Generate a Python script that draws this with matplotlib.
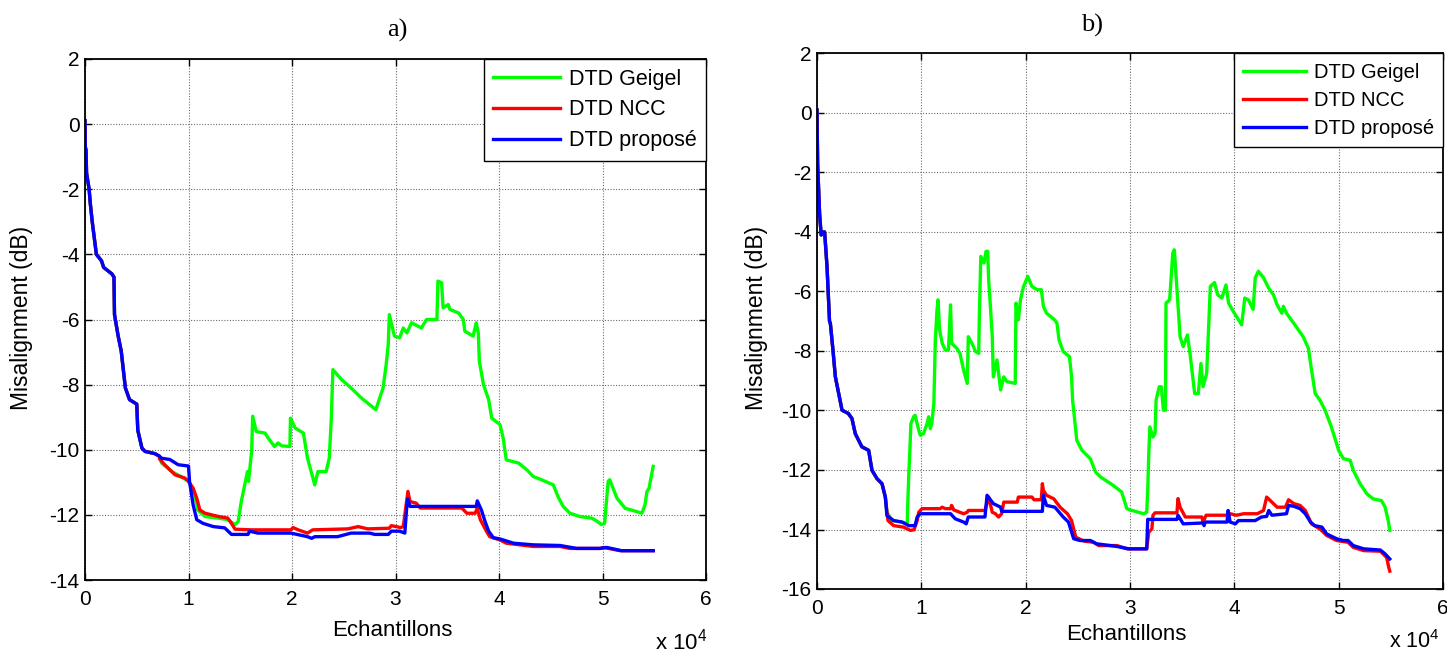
import matplotlib
matplotlib.use("Agg")
import matplotlib.pyplot as plt

plt.rcParams['font.family'] = ['Liberation Sans', 'DejaVu Sans']
plt.rcParams['axes.unicode_minus'] = False

W, H = 1447, 653

# ---------------- panel a) ----------------
# sample index in units of 10^4, misalignment in dB
a_head_x = [0, 0.003, 0.01, 0.015, 0.02, 0.04, 0.05, 0.07, 0.09, 0.11, 0.16, 0.18, 0.26,
            0.28, 0.285, 0.32, 0.35, 0.39, 0.43, 0.50, 0.51, 0.55, 0.58, 0.675, 0.72]
a_head_y = [0.1, -0.7, -0.8, -1.5, -1.6, -2.0, -2.4, -3.0, -3.5, -4.0, -4.2, -4.4, -4.6,
            -4.7, -5.85, -6.5, -6.97, -8.1, -8.46, -8.6, -9.4, -9.95, -10.05, -10.12, -10.2]

a_prop_x = [0.74, 0.82, 0.90, 1.0, 1.01, 1.045, 1.08, 1.14, 1.24, 1.35, 1.415, 1.575, 1.59,
            1.67, 1.99, 2.15, 2.19, 2.22, 2.44, 2.57, 2.75, 2.80, 2.93, 2.96, 3.04, 3.09,
            3.11, 3.12, 3.14, 3.78, 3.79, 3.83, 3.865, 3.90, 3.945, 4.01, 4.14, 4.33, 4.59,
            4.75, 4.975, 5.04, 5.185, 5.49]
a_prop_y = [-10.26, -10.3, -10.46, -10.5, -10.97, -11.7, -12.15, -12.26, -12.36, -12.4,
            -12.6, -12.6, -12.5, -12.56, -12.56, -12.67, -12.72, -12.67, -12.67, -12.56,
            -12.56, -12.6, -12.6, -12.5, -12.5, -12.56, -11.7, -11.5, -11.74, -11.74,
            -11.57, -11.85, -12.2, -12.5, -12.7, -12.74, -12.87, -12.92, -12.94, -13.03,
            -13.03, -13.0, -13.1, -13.1]

a_ncc_x = [0.72, 0.77, 0.87, 0.965, 1.0, 1.045, 1.08, 1.11, 1.16, 1.29, 1.38, 1.415, 1.45,
           1.61, 1.99, 2.01, 2.06, 2.15, 2.20, 2.54, 2.64, 2.73, 2.94, 2.96, 3.05, 3.075,
           3.09, 3.12, 3.14, 3.20, 3.24, 3.64, 3.69, 3.77, 3.79, 3.82, 3.88, 3.91, 4.01,
           4.07, 4.33, 4.59, 4.685, 4.975, 5.01, 5.17, 5.49]
a_ncc_y = [-10.28, -10.46, -10.77, -10.87, -10.97, -11.18, -11.49, -11.85, -11.95, -12.05,
           -12.1, -12.26, -12.44, -12.46, -12.46, -12.39, -12.46, -12.56, -12.46, -12.43,
           -12.36, -12.43, -12.41, -12.33, -12.39, -12.36, -12.0, -11.28, -11.59, -11.64,
           -11.79, -11.79, -11.95, -11.95, -11.79, -12.15, -12.51, -12.67, -12.77, -12.87,
           -12.97, -12.97, -13.03, -13.03, -13.0, -13.1, -13.1]

a_geigel_x = [0.74, 0.84, 0.95, 1.0, 1.06, 1.09, 1.16, 1.29, 1.38, 1.45, 1.48, 1.51, 1.54,
              1.57, 1.58, 1.61, 1.62, 1.655, 1.74, 1.77, 1.83, 1.865, 1.90, 1.98, 1.985,
              2.03, 2.11, 2.15, 2.22, 2.25, 2.33, 2.36, 2.38, 2.395, 2.48, 2.57, 2.67, 2.81,
              2.88, 2.91, 2.93, 2.94, 2.99, 3.04, 3.075, 3.11, 3.155, 3.25, 3.30, 3.40,
              3.41, 3.445, 3.46, 3.51, 3.525, 3.61, 3.655, 3.67, 3.75, 3.78, 3.80, 3.81,
              3.85, 3.90, 3.93, 4.01, 4.04, 4.07, 4.19, 4.27, 4.33, 4.41, 4.525, 4.57,
              4.62, 4.685, 4.78, 4.895, 4.94, 4.99, 5.02, 5.055, 5.07, 5.14, 5.22, 5.30,
              5.38, 5.41, 5.43, 5.45, 5.465, 5.49]
a_geigel_y = [-10.41, -10.67, -10.87, -10.97, -11.38, -11.85, -12.05, -12.1, -12.15, -12.3,
              -12.2, -11.59, -11.13, -10.67, -10.97, -10.05, -8.97, -9.44, -9.49, -9.64,
              -9.9, -9.79, -9.88, -9.9, -9.03, -9.33, -9.49, -10.26, -11.08, -10.67,
              -10.67, -10.26, -9.03, -7.54, -7.85, -8.1, -8.41, -8.77, -8.1, -7.38, -6.77,
              -5.85, -6.51, -6.56, -6.26, -6.41, -6.1, -6.26, -6.0, -6.0, -4.82, -4.87,
              -5.64, -5.54, -5.69, -5.8, -6.0, -6.36, -6.51, -6.1, -6.41, -7.28, -8.0,
              -8.46, -9.03, -9.23, -9.64, -10.31, -10.41, -10.62, -10.82, -10.92, -11.08,
              -11.44, -11.74, -11.95, -12.05, -12.1, -12.18, -12.3, -12.26, -10.97, -10.92,
              -11.49, -11.8, -11.87, -11.95, -11.7, -11.28, -11.18, -10.92, -10.51]

# ---------------- panel b) ----------------
b_head_x = [0, 0.006, 0.016, 0.025, 0.04, 0.064, 0.073, 0.083, 0.096, 0.12, 0.128, 0.153,
            0.176, 0.208, 0.24, 0.30, 0.335, 0.367, 0.43, 0.495, 0.527, 0.575, 0.623, 0.655]
b_head_y = [0.1, -1.7, -2.6, -3.4, -4.1, -4.0, -4.0, -4.5, -5.16, -7.0, -7.07, -7.97,
            -8.87, -9.43, -9.99, -10.1, -10.27, -10.78, -11.22, -11.34, -12.01, -12.29,
            -12.46, -12.91]

b_prop_x = [0.67, 0.735, 0.815, 0.88, 0.94, 0.96, 0.99, 1.28, 1.325, 1.405, 1.43, 1.45,
            1.61, 1.63, 1.69, 1.76, 1.77, 2.16, 2.17, 2.20, 2.28, 2.36, 2.41, 2.46, 2.52,
            2.62, 2.68, 2.875, 2.99, 3.16, 3.17, 3.45, 3.46, 3.51, 3.70, 3.71, 3.72, 3.93,
            3.94, 3.96, 4.01, 4.04, 4.20, 4.26, 4.31, 4.33, 4.36, 4.50, 4.52, 4.57, 4.63,
            4.68, 4.73, 4.77, 4.84, 4.885, 4.98, 5.045, 5.09, 5.14, 5.24, 5.40, 5.445, 5.49]
b_prop_y = [-13.53, -13.7, -13.75, -13.87, -13.87, -13.58, -13.47, -13.47, -13.64, -13.75,
            -13.81, -13.58, -13.58, -12.85, -13.13, -13.25, -13.39, -13.39, -12.85, -13.19,
            -13.25, -13.58, -13.75, -14.31, -14.37, -14.37, -14.48, -14.57, -14.65, -14.65,
            -13.66, -13.66, -13.52, -13.81, -13.78, -13.87, -13.75, -13.75, -13.36, -13.75,
            -13.81, -13.7, -13.7, -13.58, -13.56, -13.36, -13.52, -13.47, -13.19, -13.22,
            -13.3, -13.47, -13.75, -13.87, -13.92, -14.15, -14.31, -14.37, -14.37, -14.54,
            -14.65, -14.69, -14.82, -14.99]

b_ncc_x = [0.68, 0.735, 0.83, 0.895, 0.93, 0.96, 0.975, 1.006, 1.18, 1.20, 1.23, 1.28,
           1.29, 1.31, 1.405, 1.44, 1.45, 1.61, 1.645, 1.68, 1.71, 1.74, 1.77, 1.79, 1.92,
           1.93, 2.06, 2.08, 2.15, 2.16, 2.17, 2.20, 2.27, 2.33, 2.40, 2.44, 2.48, 2.56,
           2.65, 2.70, 2.875, 2.97, 3.16, 3.18, 3.21, 3.22, 3.24, 3.45, 3.46, 3.48, 3.53,
           3.69, 3.70, 3.73, 3.93, 3.96, 4.02, 4.09, 4.22, 4.28, 4.31, 4.36, 4.41, 4.49,
           4.52, 4.57, 4.63, 4.68, 4.74, 4.82, 4.885, 4.98, 5.09, 5.14, 5.24, 5.40, 5.46,
           5.48, 5.49]
b_ncc_y = [-13.7, -13.87, -13.92, -14.03, -14.01, -13.7, -13.42, -13.3, -13.3, -13.25,
           -13.3, -13.3, -13.19, -13.34, -13.47, -13.42, -13.36, -13.36, -12.91, -13.42,
           -13.47, -13.58, -13.47, -13.08, -13.08, -12.91, -12.91, -13.0, -13.0, -12.46,
           -12.69, -12.85, -12.97, -13.25, -13.47, -13.7, -14.26, -14.39, -14.43, -14.54,
           -14.54, -14.65, -14.65, -14.09, -13.98, -13.52, -13.44, -13.44, -12.96, -13.25,
           -13.58, -13.58, -13.75, -13.52, -13.52, -13.47, -13.52, -13.47, -13.47, -13.36,
           -12.91, -13.08, -13.25, -13.25, -13.0, -13.13, -13.19, -13.36, -13.81, -13.98,
           -14.2, -14.37, -14.43, -14.6, -14.71, -14.73, -14.94, -15.27, -15.4]

b_geigel_x = [0.67, 0.72, 0.815, 0.865, 0.87, 0.88, 0.89, 0.90, 0.926, 0.94, 0.975, 0.99,
              1.02, 1.055, 1.07, 1.086, 1.10, 1.12, 1.134, 1.15, 1.16, 1.175, 1.20, 1.23,
              1.26, 1.28, 1.29, 1.34, 1.37, 1.405, 1.44, 1.45, 1.485, 1.52, 1.55, 1.556,
              1.57, 1.60, 1.62, 1.636, 1.645, 1.66, 1.68, 1.69, 1.725, 1.76, 1.79, 1.82,
              1.90, 1.907, 1.93, 1.95, 1.98, 2.02, 2.06, 2.11, 2.15, 2.17, 2.20, 2.28,
              2.30, 2.32, 2.36, 2.42, 2.44, 2.45, 2.47, 2.49, 2.54, 2.62, 2.67, 2.72, 2.84,
              2.92, 2.97, 3.0, 3.13, 3.16, 3.17, 3.18, 3.19, 3.22, 3.24, 3.25, 3.28, 3.30,
              3.32, 3.34, 3.345, 3.38, 3.41, 3.425, 3.45, 3.48, 3.51, 3.55, 3.575, 3.62,
              3.655, 3.68, 3.70, 3.735, 3.75, 3.77, 3.81, 3.84, 3.88, 3.92, 3.945, 3.99,
              4.07, 4.10, 4.135, 4.18, 4.20, 4.23, 4.28, 4.33, 4.375, 4.41, 4.455, 4.47,
              4.50, 4.57, 4.66, 4.71, 4.74, 4.775, 4.82, 4.87, 4.93, 5.0, 5.045, 5.11,
              5.14, 5.205, 5.27, 5.33, 5.41, 5.445, 5.475, 5.49]
b_geigel_y = [-13.42, -13.7, -13.75, -13.81, -13.13, -12.12, -11.34, -10.44, -10.21,
              -10.16, -10.66, -10.83, -10.78, -10.44, -10.21, -10.61, -10.44, -9.76, -7.63,
              -6.62, -6.28, -7.29, -7.74, -7.97, -7.97, -6.45, -7.74, -7.91, -8.08, -8.64,
              -9.09, -7.52, -7.74, -8.02, -8.08, -6.84, -4.82, -5.04, -4.65, -4.65, -5.6,
              -6.39, -7.52, -8.87, -8.3, -9.31, -8.87, -9.03, -9.09, -6.39, -6.96, -6.28,
              -5.83, -5.49, -5.83, -5.94, -5.94, -6.5, -6.73, -6.96, -7.07, -7.63, -8.02,
              -8.19, -8.87, -9.65, -10.33, -11.0, -11.34, -11.62, -12.07, -12.24, -12.52,
              -12.74, -13.3, -13.34, -13.47, -13.42, -12.69, -11.45, -10.55, -10.89,
              -10.78, -9.65, -9.2, -9.2, -9.99, -9.99, -6.39, -6.28, -4.71, -4.6, -5.94,
              -7.52, -7.85, -7.46, -8.08, -9.43, -9.43, -8.42, -9.2, -8.75, -7.52, -5.83,
              -5.7, -6.11, -6.22, -5.78, -6.39, -6.67, -7.12, -6.22, -6.28, -6.6, -5.54,
              -5.32, -5.54, -5.89, -6.11, -6.45, -6.73, -6.5, -6.73, -7.07, -7.52, -7.91,
              -8.64, -9.43, -9.65, -9.99, -10.55, -11.34, -11.62, -11.67, -12.01, -12.46,
              -12.8, -12.97, -13.03, -13.25, -13.7, -14.03]

series_labels = ['DTD Geigel', 'DTD NCC', 'DTD proposé']
series_colors = ['#00ff00', '#ff0000', '#0000ff']
x_ticks = [0, 1, 2, 3, 4, 5, 6]

fig = plt.figure(figsize=(W / 100, H / 100), dpi=100)


def px_box(left, top, right, bottom):
    return [left / W, 1 - bottom / H, (right - left) / W, (bottom - top) / H]


def draw_panel(box, head_x, head_y, tails, ylim, yticks, fs, leg_fs):
    ax = fig.add_axes(box)
    for (tx, ty), lab, col in zip(tails, series_labels, series_colors):
        ax.plot(head_x + tx, head_y + ty, color=col, lw=2.4, label=lab)
    ax.set_xlim(0, 6)
    ax.set_ylim(*ylim)
    ax.set_xticks(x_ticks)
    ax.set_yticks(yticks)
    ax.set_xticklabels([str(t) for t in x_ticks])
    ax.set_yticklabels([str(t) for t in yticks])
    ax.grid(True, linestyle=(0, (1, 1.5)), color='#6e6e6e', linewidth=0.8)
    ax.tick_params(direction='in', top=True, right=True, length=5, width=1,
                   labelsize=fs, color='black')
    ax.tick_params(axis='x', pad=7)
    ax.tick_params(axis='y', pad=4)
    for s in ax.spines.values():
        s.set_linewidth(1.3)
    leg = ax.legend(loc='upper right', fontsize=leg_fs, frameon=True, fancybox=False,
                    framealpha=1, edgecolor='black', borderaxespad=0,
                    handlelength=3.1, handletextpad=0.4, labelspacing=0.45,
                    borderpad=0.45)
    leg.get_frame().set_linewidth(1.0)
    return ax


draw_panel(px_box(85, 59, 706, 580), a_head_x, a_head_y,
           [(a_geigel_x, a_geigel_y), (a_ncc_x, a_ncc_y), (a_prop_x, a_prop_y)],
           (-14, 2), list(range(-14, 3, 2)), 15, 15.5)
draw_panel(px_box(817, 53.5, 1443, 589), b_head_x, b_head_y,
           [(b_geigel_x, b_geigel_y), (b_ncc_x, b_ncc_y), (b_prop_x, b_prop_y)],
           (-16, 2), list(range(-16, 3, 2)), 15, 14.5)


def ftext(x, y, s, **kw):
    fig.text(x / W, 1 - y / H, s, **kw)


ftext(397, 30, 'a)', family='Liberation Serif', fontsize=19, ha='center', va='center')
ftext(1092, 25, 'b)', family='Liberation Serif', fontsize=19, ha='center', va='center')
ftext(392, 631, 'Echantillons', fontsize=16, ha='center', va='center')
ftext(1126, 635, 'Echantillons', fontsize=16, ha='center', va='center')
ftext(22, 318, 'Misalignment (dB)', fontsize=16.5, ha='center', va='center', rotation=90)
ftext(757, 318, 'Misalignment (dB)', fontsize=16.5, ha='center', va='center', rotation=90)
ftext(655, 642, r'x 10$^{\mathregular{4}}$', fontsize=16, ha='left', va='center')
ftext(1440, 642, r'x 10$^{\mathregular{4}}$', fontsize=15.5, ha='right', va='center')

fig.savefig('out.png', dpi=100)
